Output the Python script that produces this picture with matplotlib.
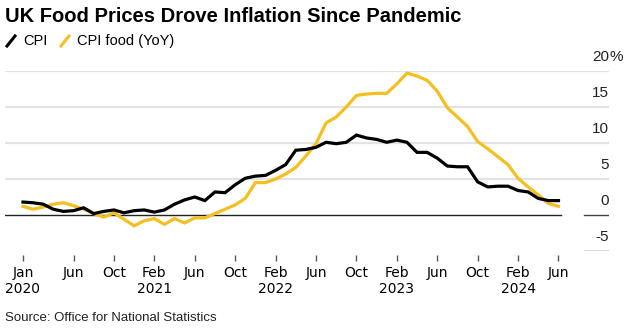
import numpy as np
import matplotlib
matplotlib.use("Agg")
import matplotlib.pyplot as plt
import matplotlib.transforms as mtransforms
from matplotlib.lines import Line2D

# monthly, Jan 2020 .. Jun 2024
months = np.arange(54)
cpi = [1.8, 1.7, 1.5, 0.8, 0.5, 0.6, 1.0, 0.2, 0.5, 0.7, 0.3, 0.6,
       0.7, 0.4, 0.7, 1.5, 2.1, 2.5, 2.0, 3.2, 3.1, 4.2, 5.1, 5.4,
       5.5, 6.2, 7.0, 9.0, 9.1, 9.4, 10.1, 9.9, 10.1, 11.1, 10.7, 10.5,
       10.1, 10.4, 10.1, 8.7, 8.7, 7.9, 6.8, 6.7, 6.7, 4.6, 3.9, 4.0,
       4.0, 3.4, 3.2, 2.3, 2.0, 2.0]
cpi_food = [1.2, 0.8, 1.1, 1.5, 1.7, 1.3, 0.8, 0.2, -0.3, 0.3, -0.6, -1.5,
            -0.8, -0.5, -1.3, -0.5, -1.1, -0.4, -0.4, 0.2, 0.8, 1.4, 2.3, 4.5,
            4.5, 5.0, 5.7, 6.6, 8.2, 9.9, 12.8, 13.6, 15.0, 16.6, 16.8, 16.9,
            16.9, 18.2, 19.7, 19.3, 18.7, 17.2, 14.9, 13.6, 12.3, 10.2, 9.2, 8.1,
            7.0, 5.1, 3.9, 2.8, 1.6, 1.2]

tick_pos = [0, 5, 9, 13, 17, 21, 25, 29, 33, 37, 41, 45, 49, 53]
tick_labels = ["Jan\n2020", "Jun", "Oct", "Feb\n2021", "Jun", "Oct", "Feb\n2022",
               "Jun", "Oct", "Feb\n2023", "Jun", "Oct", "Feb\n2024", "Jun"]
y_ticks = [20, 15, 10, 5, 0, -5]
y_labels = ["20", "15", "10", "5", "0", "-5"]

BLACK = "#000000"
YELLOW = "#f4bf1f"
GRID = "#e3e3e3"
FONT = ["Liberation Sans", "DejaVu Sans"]

W, H = 629, 329
fig = plt.figure(figsize=(W / 100, H / 100), dpi=100)

# axes box in pixels: x 5..609, y 71 (20%) .. 251 (-5%)
ax = fig.add_axes([5 / W, (H - 251) / H, 604 / W, 180 / H])
ax.set_xlim(-1.78, 58.0)
ax.set_ylim(-5, 20)
for s in ax.spines.values():
    s.set_visible(False)

# gridlines
for v in [20, 15, 10, 5]:
    ax.axhline(v, color=GRID, lw=1.6, zorder=0)
ax.axhline(0, xmin=0, xmax=0.921, color="#222222", lw=1.0, zorder=1)
ax.axhline(0, xmin=0.959, xmax=1, color="#444444", lw=1.0, zorder=1)
ax.axhline(-5, xmin=0.959, xmax=1, color="#444444", lw=1.0, zorder=1)

ax.plot(months, cpi_food, color=YELLOW, lw=2.3, solid_joinstyle="miter", zorder=3)
ax.plot(months, cpi, color=BLACK, lw=2.3, solid_joinstyle="miter", zorder=4)

# y labels on the right, sitting above their gridlines; % hangs past the edge
lab_tr = mtransforms.offset_copy(ax.get_yaxis_transform(), fig=fig, x=0, y=14, units="dots")
for v, lab in zip(y_ticks, y_labels):
    ax.text(1.0, v, lab, transform=lab_tr, ha="right", va="center",
            fontsize=11, family=FONT, color="#222222")
ax.text(1.0, 20, "%", transform=lab_tr, ha="left", va="center",
        fontsize=11, family=FONT, color="#222222")

ax.set_yticks([])
ax.set_xticks(tick_pos)
ax.set_xticklabels(tick_labels, family=FONT, fontsize=11, color="#222222",
                   linespacing=1.2)
ax.tick_params(axis="x", length=4, width=1, color="#555555", pad=4)
ax.spines["bottom"].set_position(("outward", 3))

# title, legend, source
fig.text(5 / W, 1 - 16 / H, "UK Food Prices Drove Inflation Since Pandemic",
         fontsize=14.5, fontweight="bold", family=FONT, va="center", ha="left")

def slash(x0, col):
    fig.add_artist(Line2D([x0 / W, (x0 + 8) / W], [1 - 46 / H, 1 - 36 / H],
                          color=col, lw=2.2, transform=fig.transFigure))

slash(7, BLACK)
fig.text(23 / W, 1 - 41 / H, "CPI", fontsize=10.5, family=FONT, va="center")
slash(61, YELLOW)
fig.text(77 / W, 1 - 41 / H, "CPI food (YoY)", fontsize=10.5, family=FONT, va="center")

fig.text(5 / W, 1 - 318 / H, "Source: Office for National Statistics",
         fontsize=9.5, family=FONT, va="center", color="#222222")

fig.savefig("out.png", dpi=100)
